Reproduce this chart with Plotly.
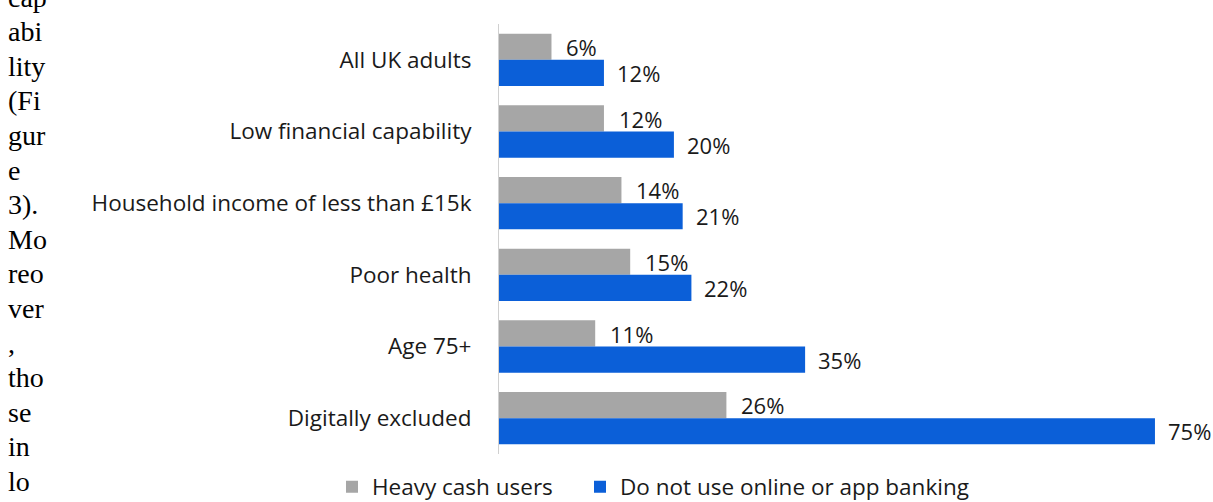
import plotly.graph_objects as go

categories = ["All UK adults", "Low financial capability", "Household income of less than £15k",
              "Poor health", "Age 75+", "Digitally excluded"]
heavy_cash = [6, 12, 14, 15, 11, 26]
no_online = [12, 20, 21, 22, 35, 75]
series_names = ["Heavy cash users", "Do not use online or app banking"]
side_text = ["cap", "abi", "lity", "(Fi", "gur", "e", "3).", "Mo", "reo", "ver", ",", "tho", "se", "in", "lo"]

W, H = 1213, 502
ML, MR, MT, MB = 499, 13, 24, 48
XMAX = 80.15

GRAY = "#a6a6a6"
BLUE = "#0b5fd8"
FONT = "Open Sans"
FS = 22.5
TXT = "#1a1a1a"

fig = go.Figure()
fig.add_trace(go.Bar(y=categories, x=heavy_cash, orientation="h", name=series_names[0],
                     marker=dict(color=GRAY, line=dict(width=0)), legend="legend"))
fig.add_trace(go.Bar(y=categories, x=no_online, orientation="h", name=series_names[1],
                     marker=dict(color=BLUE, line=dict(width=0)), legend="legend2"))

annotations = []
for cat, a, b in zip(categories, heavy_cash, no_online):
    annotations.append(dict(x=a, y=cat, text=f"{a}%", showarrow=False, xanchor="left",
                            xshift=13, yshift=13, font=dict(family=FONT, size=22, color=TXT)))
    annotations.append(dict(x=b, y=cat, text=f"{b}%", showarrow=False, xanchor="left",
                            xshift=11, yshift=-13, font=dict(family=FONT, size=22, color=TXT)))

plot_h = H - MT - MB
plot_w = W - ML - MR
line_h = 34.6
for i, t in enumerate(side_text):
    py = -3 + i * line_h
    annotations.append(dict(xref="paper", yref="paper", x=(6 - ML) / plot_w, y=(H - MB - py) / plot_h,
                            xanchor="left", yanchor="middle", text=t, showarrow=False,
                            font=dict(family="Liberation Serif", size=28, color="#000000")))

legend_y = (H - MB - 487) / plot_h
legend_common = dict(orientation="h", yref="paper", y=legend_y, yanchor="middle", xref="paper",
                     xanchor="left", font=dict(family=FONT, size=FS, color=TXT),
                     itemwidth=30, itemclick=False, bgcolor="rgba(0,0,0,0)")

fig.update_layout(
    width=W, height=H,
    margin=dict(l=ML, r=MR, t=MT, b=MB, autoexpand=False),
    barmode="group", bargap=0.27, bargroupgap=0,
    plot_bgcolor="white", paper_bgcolor="white",
    font=dict(family=FONT, size=FS, color=TXT),
    xaxis=dict(range=[0, XMAX], visible=False, fixedrange=True),
    yaxis=dict(autorange="reversed", showline=True, linecolor="#d0d0d0", linewidth=1,
               ticks="", ticklabelstandoff=22, showgrid=False,
               tickfont=dict(family=FONT, size=FS, color=TXT)),
    legend=dict(x=(332 - ML) / plot_w, **legend_common),
    legend2=dict(x=(580 - ML) / plot_w, **legend_common),
    annotations=annotations,
    showlegend=True,
)
fig.write_html("out.html")
